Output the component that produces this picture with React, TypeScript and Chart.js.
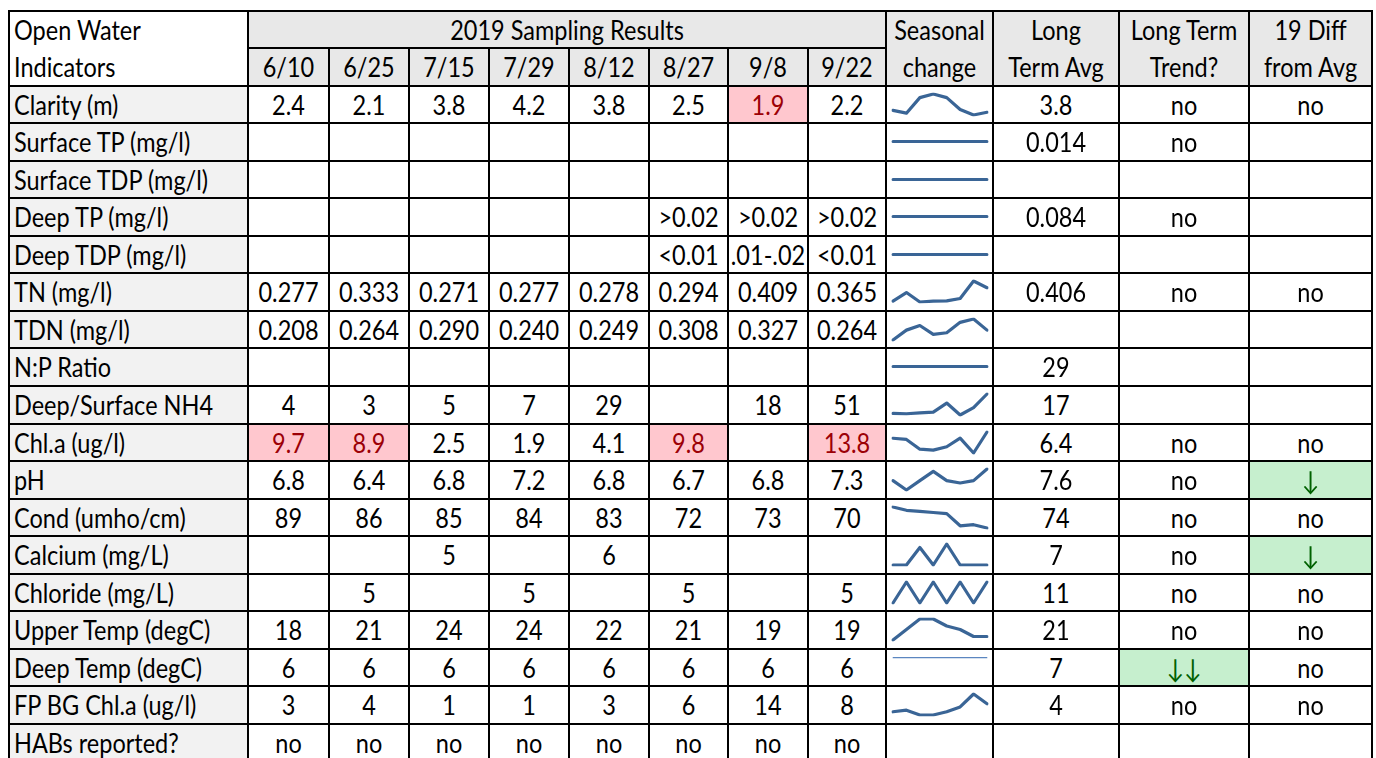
import React, { useEffect, useRef } from 'react';
import { Chart, registerables } from 'chart.js';
Chart.register(...registerables);

// ---------- data ----------
const dates = ['6/10', '6/25', '7/15', '7/29', '8/12', '8/27', '9/8', '9/22'];

const indicators = [
  'Clarity (m)', 'Surface TP (mg/l)', 'Surface TDP (mg/l)', 'Deep TP (mg/l)', 'Deep TDP (mg/l)',
  'TN (mg/l)', 'TDN (mg/l)', 'N:P Ratio', 'Deep/Surface NH4', 'Chl.a (ug/l)', 'pH',
  'Cond (umho/cm)', 'Calcium (mg/L)', 'Chloride (mg/L)', 'Upper Temp (degC)',
  'Deep Temp (degC)', 'FP BG Chl.a (ug/l)', 'HABs reported?',
];

type V = number | string | null;
const clarity: V[] = [2.4, 2.1, 3.8, 4.2, 3.8, 2.5, 1.9, 2.2];
const surfaceTP: V[] = [null, null, null, null, null, null, null, null];
const surfaceTDP: V[] = [null, null, null, null, null, null, null, null];
const deepTP: V[] = [null, null, null, null, null, '>0.02', '>0.02', '>0.02'];
const deepTDP: V[] = [null, null, null, null, null, '<0.01', '.01-.02', '<0.01'];
const tn: V[] = [0.277, 0.333, 0.271, 0.277, 0.278, 0.294, 0.409, 0.365];
const tdn: V[] = [0.208, 0.264, 0.290, 0.240, 0.249, 0.308, 0.327, 0.264];
const npRatio: V[] = [null, null, null, null, null, null, null, null];
const nh4: V[] = [4, 3, 5, 7, 29, null, 18, 51];
const chla: V[] = [9.7, 8.9, 2.5, 1.9, 4.1, 9.8, null, 13.8];
const ph: V[] = [6.8, 6.4, 6.8, 7.2, 6.8, 6.7, 6.8, 7.3];
const cond: V[] = [89, 86, 85, 84, 83, 72, 73, 70];
const calcium: V[] = [null, null, 5, null, 6, null, null, null];
const chloride: V[] = [null, 5, null, 5, null, 5, null, 5];
const upperTemp: V[] = [18, 21, 24, 24, 22, 21, 19, 19];
const deepTemp: V[] = [6, 6, 6, 6, 6, 6, 6, 6];
const fpBgChla: V[] = [3, 4, 1, 1, 3, 6, 14, 8];
const habs: V[] = ['no', 'no', 'no', 'no', 'no', 'no', 'no', 'no'];

const rowValues = [clarity, surfaceTP, surfaceTDP, deepTP, deepTDP, tn, tdn, npRatio, nh4, chla,
  ph, cond, calcium, chloride, upperTemp, deepTemp, fpBgChla, habs];
const rowDecimals = [1, 3, 3, 3, 3, 3, 3, 0, 0, 1, 1, 0, 0, 0, 0, 0, 0, 0];
const hasSparkline = [true, true, true, true, true, true, true, true, true, true, true, true, true, true, true, true, true, false];

const longTermAvg = ['3.8', '0.014', '', '0.084', '', '0.406', '', '29', '17', '6.4', '7.6', '74', '7', '11', '21', '7', '4', ''];
const longTermTrend = ['no', 'no', '', 'no', '', 'no', '', '', '', 'no', 'no', 'no', 'no', 'no', 'no', '↓↓', 'no', ''];
const diffFromAvg = ['no', '', '', '', '', 'no', '', '', '', 'no', '↓', 'no', '↓', 'no', 'no', 'no', 'no', ''];

// highlighted (flagged) sampling cells: [row, dateIndex]
const flaggedHigh: [number, number][] = [[0, 6], [9, 0], [9, 1], [9, 5], [9, 7]];
// improved cells by row
const improvedTrend = [15];
const improvedDiff = [10, 12];

// ---------- layout ----------
const XS = [9, 248, 329, 409, 489, 569, 649, 728, 808, 886, 993, 1119, 1249, 1372];
const Y0 = 10.5;
const RH = 37.55;
const rowTop = (i: number) => Y0 + i * RH;

const FONT = 'Lato, "Open Sans", sans-serif';
const HEADER_BG = '#e8e8e8';
const FIRSTCOL_BG = '#f2f2f2';
const LINE_COLOR = '#3a6596';

function fmt(v: V, d: number): string {
  if (v === null) return '';
  if (typeof v === 'string') return v;
  return v.toFixed(d);
}

function Txt({ x0, x1, y0, y1, text, align = 'center', color = '#000', bg }: {
  x0: number; x1: number; y0: number; y1: number; text: string; align?: 'left' | 'center'; color?: string; bg?: string;
}) {
  return (
    <div style={{
      position: 'absolute', left: x0, top: y0, width: x1 - x0, height: y1 - y0,
      display: 'flex', alignItems: 'center', justifyContent: align === 'left' ? 'flex-start' : 'center',
      background: bg, boxSizing: 'border-box', paddingLeft: align === 'left' ? 5 : 0,
      fontFamily: FONT, fontSize: 23.5, color, whiteSpace: 'nowrap', overflow: 'hidden',
    }}>
      <span style={{ display: 'inline-block', transform: 'translateY(1.5px) scaleY(1.12)', lineHeight: 1 }}>{text}</span>
    </div>
  );
}

function Bg({ x0, x1, y0, y1, color }: { x0: number; x1: number; y0: number; y1: number; color: string }) {
  return <div style={{ position: 'absolute', left: x0, top: y0, width: x1 - x0, height: y1 - y0, background: color }} />;
}

function Spark({ values, x0, x1, y0, y1, thin }: { values: V[]; x0: number; x1: number; y0: number; y1: number; thin?: boolean }) {
  const ref = useRef<HTMLCanvasElement>(null);
  const w = Math.round(x1 - x0);
  const h = Math.round(y1 - y0);
  useEffect(() => {
    if (!ref.current) return;
    const nums = values.map((v) => (typeof v === 'number' ? v : 0));
    const yScale: any = { display: false, bounds: 'data', grace: 0 };
    if (thin) { yScale.min = 0; yScale.max = 6.2; }
    const chart = new Chart(ref.current, {
      type: 'line',
      data: {
        labels: dates,
        datasets: [{
          data: nums,
          borderColor: thin ? '#5b86c0' : LINE_COLOR,
          borderWidth: thin ? 1.2 : 3.2,
          pointRadius: 0,
          tension: 0,
          fill: false,
          borderCapStyle: 'round',
          borderJoinStyle: 'round',
        }],
      },
      options: {
        animation: false,
        responsive: false,
        maintainAspectRatio: false,
        events: [],
        plugins: { legend: { display: false }, tooltip: { enabled: false } },
        layout: { padding: { top: 8, bottom: 9, left: 7, right: 6 } },
        scales: {
          x: { display: false, offset: false },
          y: yScale,
        },
      },
    });
    return () => chart.destroy();
  }, []);
  return <canvas ref={ref} width={w} height={h} style={{ position: 'absolute', left: x0, top: y0, width: w, height: h }} />;
}

export default function App() {
  const nRows = 2 + indicators.length;
  const els: React.ReactNode[] = [];
  let k = 0;

  // header backgrounds
  els.push(<Bg key={k++} x0={XS[1]} x1={XS[13]} y0={rowTop(0)} y1={rowTop(2)} color={HEADER_BG} />);
  // header text
  els.push(<Txt key={k++} x0={XS[0]} x1={XS[1]} y0={rowTop(0)} y1={rowTop(1)} text="Open Water" align="left" />);
  els.push(<Txt key={k++} x0={XS[0]} x1={XS[1]} y0={rowTop(1)} y1={rowTop(2)} text="Indicators" align="left" />);
  els.push(<Txt key={k++} x0={XS[1]} x1={XS[9]} y0={rowTop(0)} y1={rowTop(1)} text="2019 Sampling Results" />);
  dates.forEach((d, j) => {
    els.push(<Txt key={k++} x0={XS[1 + j]} x1={XS[2 + j]} y0={rowTop(1)} y1={rowTop(2)} text={d} />);
  });
  const hdr: [string, string][] = [['Seasonal', 'change'], ['Long', 'Term Avg'], ['Long Term', 'Trend?'], ['19 Diff', 'from Avg']];
  hdr.forEach(([a, b], j) => {
    els.push(<Txt key={k++} x0={XS[9 + j]} x1={XS[10 + j]} y0={rowTop(0)} y1={rowTop(1)} text={a} />);
    els.push(<Txt key={k++} x0={XS[9 + j]} x1={XS[10 + j]} y0={rowTop(1)} y1={rowTop(2)} text={b} />);
  });

  // data rows
  indicators.forEach((name, i) => {
    const r = i + 2;
    const y0 = rowTop(r), y1 = rowTop(r + 1);
    els.push(<Txt key={k++} x0={XS[0]} x1={XS[1]} y0={y0} y1={y1} text={name} align="left" bg={FIRSTCOL_BG} />);
    rowValues[i].forEach((v, j) => {
      const flagged = flaggedHigh.some(([fr, fc]) => fr === i && fc === j);
      els.push(<Txt key={k++} x0={XS[1 + j]} x1={XS[2 + j]} y0={y0} y1={y1} text={fmt(v, rowDecimals[i])}
        bg={flagged ? '#ffc7ce' : undefined} color={flagged ? '#9c0006' : '#000'} />);
    });
    if (hasSparkline[i]) {
      els.push(<Spark key={k++} values={rowValues[i]} x0={XS[9]} x1={XS[10]} y0={y0} y1={y1} thin={i === 15} />);
    }
    els.push(<Txt key={k++} x0={XS[10]} x1={XS[11]} y0={y0} y1={y1} text={longTermAvg[i]} />);
    const gT = improvedTrend.includes(i);
    els.push(<Txt key={k++} x0={XS[11]} x1={XS[12]} y0={y0} y1={y1} text={longTermTrend[i]}
      bg={gT ? '#c6efce' : undefined} color={gT ? '#006100' : '#000'} />);
    const gD = improvedDiff.includes(i);
    els.push(<Txt key={k++} x0={XS[12]} x1={XS[13]} y0={y0} y1={y1} text={diffFromAvg[i]}
      bg={gD ? '#c6efce' : undefined} color={gD ? '#006100' : '#000'} />);
  });

  // grid lines
  for (let r = 0; r <= nRows; r++) {
    const y = rowTop(r);
    const xa = r === 1 ? XS[1] : XS[0];
    const xb = r === 1 ? XS[9] : XS[13];
    els.push(<div key={k++} style={{ position: 'absolute', left: xa - 1, top: y - 1, width: xb - xa + 2, height: 2, background: '#000' }} />);
  }
  for (let r = 0; r < nRows; r++) {
    const y0 = rowTop(r), y1 = rowTop(r + 1);
    XS.forEach((x, c) => {
      if (r === 0 && c >= 2 && c <= 8) return;
      els.push(<div key={k++} style={{ position: 'absolute', left: x - 1, top: y0 - 1, width: 2, height: y1 - y0 + 2, background: '#000' }} />);
    });
  }

  return (
    <div style={{ position: 'fixed', left: 0, top: 0, width: 1376, height: 758, overflow: 'hidden', background: '#fff' }}>
      {els}
    </div>
  );
}
